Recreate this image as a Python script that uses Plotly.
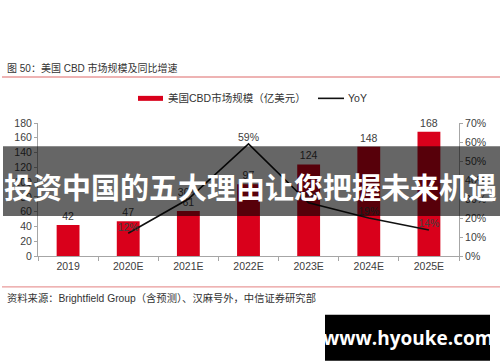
import plotly.graph_objects as go

categories = ["2019", "2020E", "2021E", "2022E", "2023E", "2024E", "2025E"]
market_size = [42, 47, 61, 97, 124, 148, 168]
yoy_x = ["2020E", "2021E", "2022E", "2023E", "2024E", "2025E"]
yoy = [0.12, 0.30, 0.59, 0.28, 0.20, 0.137]
yoy_labels = ["12%", "30%", "59%", "28%", "19%", "14%"]
left_ticks = [0, 20, 40, 60, 80, 100, 120, 140, 160, 180]
right_ticks = [0, 0.1, 0.2, 0.3, 0.4, 0.5, 0.6, 0.7]
right_tick_labels = ["0%", "10%", "20%", "30%", "40%", "50%", "60%", "70%"]

W, H = 500, 362
L, R, T, B = 38, 459, 122.7, 256

def px(x):
    return (x - L) / (R - L)

def py(y):
    return (B - y) / (B - T)

FONT = "Liberation Sans, Arial, Noto Sans CJK SC, sans-serif"
RED = "#d9001b"
AX = "#a6a6a6"
TXT = "#404040"

fig = go.Figure()
fig.add_trace(go.Bar(
    x=categories, y=market_size, marker_color=RED, marker_line_width=0,
    text=[str(v) for v in market_size], textposition="outside",
    textfont=dict(size=10.5, color=TXT, family=FONT), cliponaxis=False,
    name="美国CBD市场规模（亿美元）", showlegend=False,
))
fig.add_trace(go.Scatter(
    x=yoy_x, y=yoy, yaxis="y2", mode="lines+text",
    line=dict(color="#111111", width=1.6),
    text=yoy_labels, textposition="top center",
    textfont=dict(size=10.5, color=TXT, family=FONT), cliponaxis=False,
    name="YoY", showlegend=False,
))

shapes = []
annotations = []

# title and rule lines
annotations.append(dict(xref="paper", yref="paper", x=px(5), y=py(68), xanchor="left", yanchor="middle",
                        text="图 50：美国 CBD 市场规模及同比增速", showarrow=False,
                        font=dict(size=10, color="#333333", family=FONT)))
shapes.append(dict(type="line", xref="paper", yref="paper", x0=px(2), x1=px(500), y0=py(76.5), y1=py(76.5),
                   line=dict(color="#e99a9a", width=1.5)))
shapes.append(dict(type="line", xref="paper", yref="paper", x0=px(2), x1=px(500), y0=py(287), y1=py(287),
                   line=dict(color="#e99a9a", width=1.2)))
annotations.append(dict(xref="paper", yref="paper", x=px(5), y=py(298), xanchor="left", yanchor="middle",
                        text="资料来源：Brightfield Group（含预测）、汉麻号外，中信证券研究部", showarrow=False,
                        font=dict(size=10.3, color="#333333", family=FONT)))

# legend
shapes.append(dict(type="rect", xref="paper", yref="paper", x0=px(138), x1=px(163), y0=py(95.5), y1=py(100.5),
                   fillcolor=RED, line=dict(width=0)))
annotations.append(dict(xref="paper", yref="paper", x=px(166), y=py(98), xanchor="left", yanchor="middle",
                        text="美国CBD市场规模（亿美元）", showarrow=False,
                        font=dict(size=10.5, color="#333333", family=FONT)))
shapes.append(dict(type="line", xref="paper", yref="paper", x0=px(318), x1=px(344), y0=py(98), y1=py(98),
                   line=dict(color="#111111", width=1.6)))
annotations.append(dict(xref="paper", yref="paper", x=px(346), y=py(98), xanchor="left", yanchor="middle",
                        text="YoY", showarrow=False,
                        font=dict(size=10.5, color="#333333", family=FONT)))

# overlay banner
shapes.append(dict(type="rect", xref="paper", yref="paper", x0=px(3), x1=px(500), y0=py(216), y1=py(146),
                   fillcolor="rgba(0,0,0,0.6)", line=dict(width=0), layer="above"))
annotations.append(dict(xref="paper", yref="paper", x=px(250), y=py(186), xanchor="center", yanchor="middle",
                        text="<b>投资中国的五大理由让您把握未来机遇</b>", showarrow=False,
                        font=dict(size=29, color="white", family="Noto Sans CJK SC, sans-serif")))

# watermark
shapes.append(dict(type="rect", xref="paper", yref="paper", x0=px(325), x1=px(490), y0=py(361), y1=py(315),
                   fillcolor="black", line=dict(width=0), layer="above"))
annotations.append(dict(xref="paper", yref="paper", x=px(407.5), y=py(338), xanchor="center", yanchor="middle",
                        text="<b>www.hyouke.com</b>", showarrow=False,
                        font=dict(size=19, color="white", family="Open Sans, DejaVu Sans, sans-serif")))

fig.update_layout(
    width=W, height=H,
    margin=dict(l=L, r=W - R, t=T, b=H - B, pad=0),
    paper_bgcolor="white", plot_bgcolor="white",
    bargap=0.62,
    font=dict(family=FONT, size=10.5, color=TXT),
    xaxis=dict(type="category", categoryorder="array", categoryarray=categories,
               showline=True, linecolor=AX, linewidth=1, ticks="outside", ticklen=4, tickcolor=AX,
               tickson="boundaries", showgrid=False, tickfont=dict(size=10.5, color=TXT), fixedrange=True),
    yaxis=dict(range=[0, 180], tickvals=left_ticks, showline=True, linecolor=AX, linewidth=1,
               ticks="outside", ticklen=3, tickcolor=AX, showgrid=False, zeroline=False,
               tickfont=dict(size=10.5, color=TXT)),
    yaxis2=dict(range=[0, 0.70], tickvals=right_ticks, ticktext=right_tick_labels, overlaying="y", side="right",
                showline=True, linecolor=AX, linewidth=1, ticks="outside", ticklen=3, tickcolor=AX,
                showgrid=False, zeroline=False, tickfont=dict(size=10.5, color=TXT)),
    shapes=shapes, annotations=annotations,
)

fig.write_html("out.html", config={"displayModeBar": False},
               post_script="document.body.style.margin='0';document.body.style.overflow='hidden';")
